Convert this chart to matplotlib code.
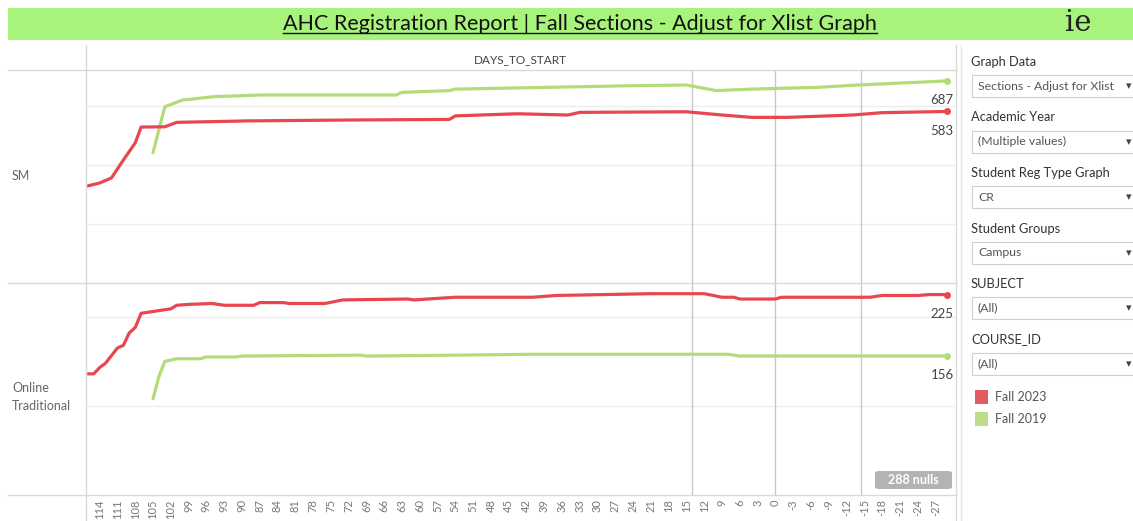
import matplotlib
matplotlib.use("Agg")
import matplotlib.pyplot as plt
from matplotlib.patches import Rectangle, FancyBboxPatch
from matplotlib.lines import Line2D

plt.rcParams['font.family'] = ['Lato', 'DejaVu Sans']

W, H = 1133, 521

# data (days to start, section counts)
red_sm_days = [116, 114, 112, 110, 108, 107, 103, 101, 89, 72, 55, 54, 44, 43, 35, 33, 15, 9, 4, -2, -13, -18, -29]
red_sm_vals = [330, 340, 357, 418, 476, 530, 531, 546, 551, 554, 556, 568, 575, 575, 571, 580, 582, 571, 563, 563, 571, 579, 583]

green_sm_days = [105, 103, 100, 98, 95, 87, 64, 63, 55, 54, 41, 26, 15, 10, 4, -7, -14, -29]
green_sm_vals = [443, 599, 622, 626, 633, 639, 639, 648, 654, 659, 664, 670, 673, 654, 659, 665, 673, 687]

red_ot_days = [116, 115, 114, 113, 111, 110, 109, 108, 107, 105, 102, 101, 99, 95, 93, 88, 87, 83, 82, 76, 73,
               62, 61, 54, 41, 37, 21, 12, 9, 7, 6, 0, -1, -16, -18, -24, -26, -29]
red_ot_vals = [136, 136, 143, 148, 165, 168, 182, 188, 204, 206, 209, 213, 214, 215, 213, 213, 216, 216, 215, 215, 219,
               220, 219, 222, 222, 224, 226, 226, 222, 222, 220, 220, 222, 222, 224, 224, 225, 225]

green_ot_days = [105, 104, 103, 101, 97, 96, 91, 90, 70, 69, 54, 41, 8, 6, -29]
green_ot_vals = [108, 133, 150, 153, 153, 155, 155, 156, 157, 156, 157, 158, 158, 156, 156]

rows = ["SM", "Online\nTraditional"]
tick_days = list(range(114, -28, -3))
ref_days = [14, 0, -14.5]

filters = [("Graph Data", "Sections - Adjust for Xlist"),
           ("Academic Year", "(Multiple values)"),
           ("Student Reg Type Graph", "CR"),
           ("Student Groups", "Campus"),
           ("SUBJECT", "(All)"),
           ("COURSE_ID", "(All)")]
legend_items = [("Fall 2023", "#e05b5f"), ("Fall 2019", "#bedd8c")]

RED = "#e8474f"
GREEN = "#b3dc78"
GRID = "#ededed"
BORDER = "#d9d9d9"


def fx(x):
    return x / W


def fy(y):
    return 1 - y / H


fig = plt.figure(figsize=(W / 100, H / 100), dpi=100)
fig.patch.set_facecolor("white")

# title bar
fig.patches.append(Rectangle((fx(8), fy(40)), fx(1133 - 8), 32 / H, transform=fig.transFigure,
                             facecolor="#a8f37c", edgecolor="none", zorder=0))
title = fig.text(fx(580), fy(24), "AHC Registration Report | Fall Sections - Adjust for Xlist Graph",
                 ha="center", va="center", fontsize=15.5, color="#111111")
fig.text(fx(1078), fy(23), "ie", ha="center", va="center", fontsize=21, family="DejaVu Serif", color="#222222")

# panels
ax1 = fig.add_axes([fx(86), fy(283), fx(955 - 86), (283 - 70) / H])
ax2 = fig.add_axes([fx(86), fy(495), fx(955 - 86), (495 - 283) / H])

panels = [(ax1, red_sm_days, red_sm_vals, green_sm_days, green_sm_vals, 724, [200, 400, 600]),
          (ax2, red_ot_days, red_ot_vals, green_ot_days, green_ot_vals, 238, [100, 200])]

for ax, rd, rv, gd, gv, top, grid in panels:
    ax.set_xlim(116.3, -30.3)
    ax.set_ylim(0, top)
    for g in grid:
        ax.axhline(g, color=GRID, lw=1, zorder=1)
    for d in ref_days:
        ax.axvline(d, color="#c9c9c9", lw=1, zorder=1)
    ax.plot(gd, gv, color=GREEN, lw=2.3, solid_capstyle="round", zorder=3)
    ax.plot(rd, rv, color=RED, lw=2.3, solid_capstyle="round", zorder=4)
    ax.plot(gd[-1], gv[-1], "o", color=GREEN, ms=4, zorder=5)
    ax.plot(rd[-1], rv[-1], "o", color=RED, ms=4, zorder=5)
    ax.set_yticks([])
    for s in ax.spines.values():
        s.set_visible(False)
    # end labels
    for d, v in [(gd[-1], gv[-1]), (rd[-1], rv[-1])]:
        ax.annotate(str(v), (1, v), xycoords=("axes fraction", "data"), xytext=(-1, -14),
                    textcoords="offset points", ha="right", va="center", fontsize=9.5, color="#444444")

ax1.set_xticks([])
ax2.set_xticks(tick_days)
ax2.set_xticklabels([str(d) for d in tick_days], rotation=90, fontsize=8, color="#777777")
ax2.tick_params(axis="x", length=0, pad=3)

# frame lines
for y in [70, 283, 495]:
    fig.lines.append(Line2D([fx(8), fx(956)], [fy(y), fy(y)], transform=fig.transFigure, color=BORDER, lw=1))
fig.lines.append(Line2D([fx(86), fx(86)], [fy(45), fy(521)], transform=fig.transFigure, color=BORDER, lw=1))
fig.lines.append(Line2D([fx(956), fx(956)], [fy(45), fy(521)], transform=fig.transFigure, color=BORDER, lw=1))
fig.lines.append(Line2D([fx(961), fx(961)], [fy(45), fy(521)], transform=fig.transFigure, color="#e6e6e6", lw=1))

fig.text(fx(520), fy(60), "DAYS_TO_START", ha="center", va="center", fontsize=8.5, color="#444444")
fig.text(fx(12), fy(176), rows[0], ha="left", va="center", fontsize=9, color="#666666")
fig.text(fx(12), fy(397), rows[1], ha="left", va="center", fontsize=9, color="#666666", linespacing=1.5)

# nulls badge
fig.patches.append(FancyBboxPatch((fx(875), fy(489)), fx(77), 18 / H, boxstyle="round,pad=0,rounding_size=0.004",
                                  transform=fig.transFigure, facecolor="#b3b3b3", edgecolor="none"))
fig.text(fx(913), fy(480), "288 nulls", ha="center", va="center", fontsize=9, color="white", weight="bold")

# filter panel
y0 = 62
for label, value in filters:
    fig.text(fx(971), fy(y0), label, ha="left", va="center", fontsize=9.3, color="#333333")
    fig.patches.append(Rectangle((fx(972), fy(y0 + 35)), fx(170), 22 / H, transform=fig.transFigure,
                                 facecolor="white", edgecolor="#cfcfcf", lw=0.8))
    fig.text(fx(978), fy(y0 + 24), value, ha="left", va="center", fontsize=8.8, color="#555555")
    fig.text(fx(1129), fy(y0 + 24), "\u25be", ha="center", va="center", fontsize=8, color="#444444")
    y0 += 55.5

for i, (name, col) in enumerate(legend_items):
    yy = 397 + i * 22
    fig.patches.append(Rectangle((fx(975), fy(yy + 7)), fx(13), 14 / H, transform=fig.transFigure,
                                 facecolor=col, edgecolor="none"))
    fig.text(fx(995), fy(yy), name, ha="left", va="center", fontsize=9, color="#555555")

# underline under the title
fig.canvas.draw()
bb = title.get_window_extent(fig.canvas.get_renderer())
fig.lines.append(Line2D([bb.x0 / W, bb.x1 / W], [bb.y0 / H + 0.002, bb.y0 / H + 0.002],
                        transform=fig.transFigure, color="#111111", lw=1))

fig.savefig("out.png", dpi=100)
